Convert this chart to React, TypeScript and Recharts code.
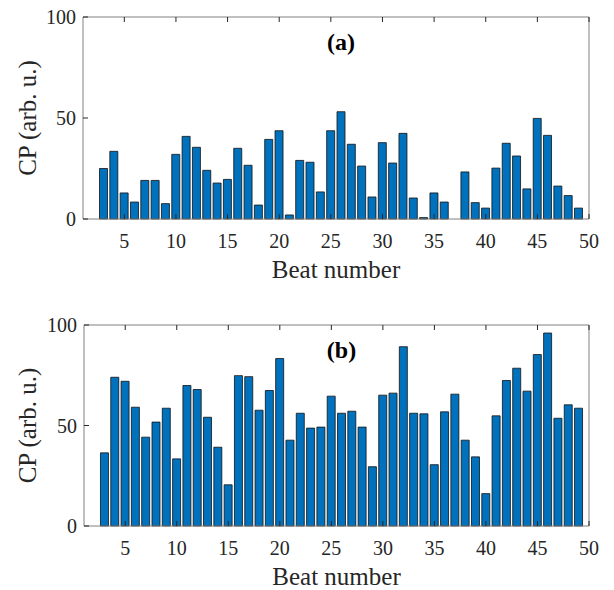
import { Bar, BarChart, XAxis, YAxis } from "recharts";

const beats = [
  3, 4, 5, 6, 7, 8, 9, 10, 11, 12, 13, 14, 15, 16, 17, 18, 19, 20, 21, 22, 23, 24, 25, 26,
  27, 28, 29, 30, 31, 32, 33, 34, 35, 36, 37, 38, 39, 40, 41, 42, 43, 44, 45, 46, 47, 48, 49,
];

// panel (a)
const cpA = [
  25, 33.5, 12.9, 8.4, 19.1, 19.1, 7.6, 32.0, 40.9, 35.5, 24.1, 17.8, 19.6, 35.0, 26.6, 6.9,
  39.4, 43.7, 2.0, 29.0, 28.1, 13.4, 43.7, 53.1, 37.0, 26.2, 10.9, 37.8, 27.7, 42.4, 10.4, 0.7,
  12.9, 8.4, 0, 23.3, 8.1, 5.4, 25.2, 37.5, 31.2, 14.9, 49.8, 41.4, 16.3, 11.6, 5.4,
];

// panel (b)
const cpB = [
  36.4, 74.0, 72.0, 59.1, 44.2, 51.7, 58.6, 33.4, 69.9, 67.9, 54.1, 39.2, 20.5, 74.8, 74.3,
  57.6, 67.4, 83.3, 42.7, 56.1, 48.7, 49.2, 64.6, 56.1, 57.1, 49.2, 29.5, 65.1, 66.1, 89.2,
  56.1, 55.8, 30.5, 56.8, 65.6, 42.7, 34.4, 16.1, 54.8, 72.4, 78.5, 67.1, 85.3, 96.0, 53.6,
  60.3, 58.6,
];

const xTicks = [5, 10, 15, 20, 25, 30, 35, 40, 45, 50];
const yTicks = [0, 50, 100];

const rows = beats.map((beat, i) => ({ beat, a: cpA[i], b: cpB[i] }));

const FONT = '"Liberation Serif", "Times New Roman", serif';
const BOX = "#808080";
const INK = "#262626";
const TICK = 5;

function BottomTick({ x, y, payload }: any) {
  return (
    <g>
      <line x1={x} x2={x} y1={y} y2={y - TICK} stroke={INK} strokeWidth={1} />
      <text x={x} y={y + 29} textAnchor="middle" fontFamily={FONT} fontSize={20} fill={INK}>
        {payload.value}
      </text>
    </g>
  );
}

function TopTick({ x, y }: any) {
  return <line x1={x} x2={x} y1={y} y2={y + TICK} stroke={INK} strokeWidth={1} />;
}

function LeftTick({ x, y, payload }: any) {
  return (
    <g>
      <line x1={x} x2={x + TICK} y1={y} y2={y} stroke={INK} strokeWidth={1} />
      <text x={x - 7} y={y} dy="0.35em" textAnchor="end" fontFamily={FONT} fontSize={20} fill={INK}>
        {payload.value}
      </text>
    </g>
  );
}

function RightTick({ x, y }: any) {
  return <line x1={x} x2={x - TICK} y1={y} y2={y} stroke={INK} strokeWidth={1} />;
}

function Panel({
  dataKey,
  tag,
  top,
  height,
  marginTop,
  leftWidth,
  bottomHeight,
}: {
  dataKey: "a" | "b";
  tag: string;
  top: number;
  height: number;
  marginTop: number;
  leftWidth: number;
  bottomHeight: number;
}) {
  return (
    <div style={{ position: "absolute", left: 0, top }}>
      <BarChart
        width={614}
        height={height}
        data={rows}
        margin={{ top: marginTop, right: 0, left: 0, bottom: 0 }}
      >
        <XAxis
          xAxisId="bottom"
          dataKey="beat"
          type="number"
          domain={[1, 50]}
          ticks={xTicks}
          allowDataOverflow
          height={bottomHeight}
          stroke={BOX}
          tickLine={false}
          tickSize={0}
          tickMargin={0}
          tick={<BottomTick />}
          label={{
            content: ({ viewBox }: any) => (
              <text
                x={viewBox.x + viewBox.width / 2}
                y={viewBox.y + 59}
                textAnchor="middle"
                fontFamily={FONT}
                fontSize={25}
                fill={INK}
              >
                Beat number
              </text>
            ),
          }}
        />
        <XAxis
          xAxisId="top"
          orientation="top"
          dataKey="beat"
          type="number"
          domain={[1, 50]}
          ticks={xTicks}
          allowDataOverflow
          height={1}
          stroke={BOX}
          tickLine={false}
          tickSize={0}
          tickMargin={0}
          tick={<TopTick />}
          label={{
            content: ({ viewBox }: any) => (
              <text
                x={viewBox.x + viewBox.width / 2 + 5}
                y={viewBox.y + viewBox.height + 33}
                textAnchor="middle"
                fontFamily={FONT}
                fontWeight="bold"
                fontSize={24}
                fill="#000"
              >
                {tag}
              </text>
            ),
          }}
        />
        <YAxis
          yAxisId="left"
          domain={[0, 100]}
          ticks={yTicks}
          width={leftWidth}
          stroke={BOX}
          tickLine={false}
          tickSize={0}
          tickMargin={0}
          tick={<LeftTick />}
          label={{
            content: ({ viewBox }: any) => {
              const cy = viewBox.y + viewBox.height / 2;
              return (
                <text
                  x={27}
                  y={cy}
                  transform={`rotate(-90 27 ${cy})`}
                  dy="0.35em"
                  textAnchor="middle"
                  fontFamily={FONT}
                  fontSize={25}
                  fill={INK}
                >
                  CP (arb. u.)
                </text>
              );
            },
          }}
        />
        <YAxis
          yAxisId="right"
          orientation="right"
          domain={[0, 100]}
          ticks={yTicks}
          width={25}
          stroke={BOX}
          tickLine={false}
          tickSize={0}
          tickMargin={0}
          tick={<RightTick />}
        />
        <Bar
          xAxisId="bottom"
          yAxisId="left"
          dataKey={dataKey}
          fill="#0072BD"
          stroke="#111"
          strokeWidth={0.8}
          barSize={8}
          isAnimationActive={false}
        />
      </BarChart>
    </div>
  );
}

export default function App() {
  return (
    <div
      style={{
        position: "absolute",
        left: 0,
        top: 0,
        width: 614,
        height: 590,
        background: "#fff",
        overflow: "hidden",
      }}
    >
      <Panel dataKey="a" tag="(a)" top={0} height={300} marginTop={16} leftWidth={83} bottomHeight={81} />
      <Panel dataKey="b" tag="(b)" top={300} height={290} marginTop={24} leftWidth={84} bottomHeight={64} />
    </div>
  );
}
